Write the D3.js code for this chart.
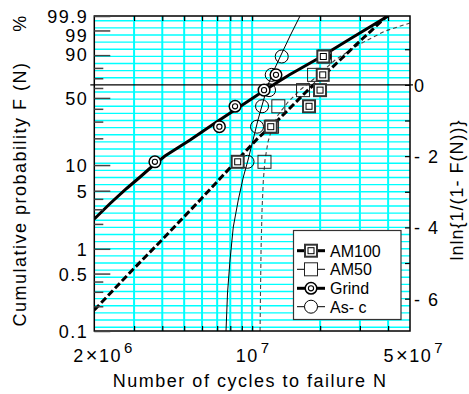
<!DOCTYPE html>
<html><head><meta charset="utf-8">
<script src="https://cdn.jsdelivr.net/npm/d3@7"></script>
<style>
html,body{margin:0;padding:0;background:#fff;}
svg{display:block;font-family:"Liberation Sans",Arial,Helvetica,sans-serif;}
</style></head><body>
<svg id="c" width="469" height="394"></svg>
<script>
// ---------- data ----------
const rankPct = [10.9, 26.6, 42.2, 57.8, 73.4, 89.1];           // cumulative probability of each specimen (%)
const am100N = [8.63e6, 1.209e7, 1.786e7, 1.998e7, 2.054e7, 2.066e7];
const am50N  = [1.134e7, 1.225e7, 1.306e7, 1.680e7, 1.880e7, 2.10e7];
const grindN = [3.71e6, 7.16e6, 8.40e6, 1.129e7, 1.275e7, 2.10e7];
const ascN   = [9.54e6, 1.051e7, 1.106e7, 1.188e7, 1.221e7, 1.352e7];

// fitted curves (N, lnln{1/(1-F)})
const am100CurveN = [2.0e6, 2.98e6, 3.98e6, 5.88e6, 8.12e6, 1.062e7, 1.302e7, 1.714e7, 2.45e7, 3.07e7, 3.96e7];
const am100CurveZ = [-6.318, -5.168, -4.354, -3.232, -2.277, -1.491, -0.986, -0.228, 0.698, 1.287, 1.933];
const grindCurveN = [2.0e6, 2.35e6, 2.78e6, 3.19e6, 3.60e6, 4.11e6, 5.31e6, 6.85e6, 8.84e6, 1.14e7, 1.47e7, 1.96e7, 2.71e7, 4.0e7];
const grindCurveZ = [-3.764, -3.329, -2.908, -2.586, -2.291, -1.996, -1.547, -1.070, -0.607, -0.144, 0.291, 0.740, 1.287, 1.933];
const am50CurveN = [1.084e7, 1.089e7, 1.095e7, 1.106e7, 1.121e7, 1.140e7, 1.175e7, 1.225e7, 1.302e7, 1.442e7, 1.629e7, 1.899e7, 2.33e7, 3.00e7, 3.88e7, 5.0e7];
const am50CurveZ = [-6.907, -5.757, -4.634, -3.512, -2.670, -2.109, -1.604, -1.211, -0.846, -0.481, -0.144, 0.193, 0.698, 1.147, 1.511, 1.736];
const ascCurveN = [7.66e6, 7.78e6, 7.98e6, 8.25e6, 8.68e6, 9.14e6, 9.59e6, 1.009e7, 1.061e7, 1.117e7, 1.175e7, 1.250e7, 1.342e7, 1.471e7, 1.629e7];
const ascCurveZ = [-6.907, -5.841, -4.915, -3.989, -3.231, -2.586, -2.109, -1.547, -0.986, -0.481, -0.004, 0.417, 0.838, 1.371, 1.933];

// axes
const xGridVals = [3e6, 4e6, 5e6, 6e6, 7e6, 8e6, 9e6, 1e7, 2e7, 3e7, 4e7];
const xLabelVals = [2e6, 1e7, 5e7];
const leftMajorPct = [99.9, 99, 90, 50, 10, 5, 1, 0.5, 0.1];
const leftMinorPct = [80, 70, 60, 40, 30, 20, 4, 3, 2, 0.4, 0.3, 0.2];
const rightTickVals = [1, 0, -1, -2, -3, -4, -5, -6];
const rightLabelVals = [0, -2, -4, -6];
const seriesNames = ["AM100", "AM50", "Grind", "As- c"];

// ---------- drawing ----------
const lnln = p => Math.log(-Math.log(1 - p / 100));
const L = 94.3, R = 410, T = 16, B = 331;
const x = d3.scaleLog().domain([2e6, 5e7]).range([L, R]);
const y = d3.scaleLinear().domain([lnln(0.1), lnln(99.9)]).range([B, T]);

const svg = d3.select("#c");
svg.append("defs").append("clipPath").attr("id", "clip")
  .append("rect").attr("x", L).attr("y", T).attr("width", R - L).attr("height", B - T);

// grid
const hGrid = d3.range(-34, 10).map(i => i * 0.2).filter(v => v > y.domain()[0] && v < y.domain()[1] && Math.abs(v) > 1e-9);
svg.append("g").selectAll("line").data(hGrid).join("line")
  .attr("x1", L).attr("x2", R).attr("y1", d => y(d)).attr("y2", d => y(d))
  .attr("stroke", "#00ffff").attr("stroke-width", 1.4);
svg.append("g").selectAll("line").data(xGridVals).join("line")
  .attr("x1", d => x(d)).attr("x2", d => x(d)).attr("y1", T).attr("y2", B)
  .attr("stroke", "#00ffff").attr("stroke-width", 2);

// zero line
svg.append("line").attr("x1", L - 4).attr("x2", R + 3).attr("y1", y(0)).attr("y2", y(0))
  .attr("stroke", "#000").attr("stroke-width", 1.2);

// curves
const line = d3.line().x(d => x(d[0])).y(d => y(d[1]));
const cg = svg.append("g").attr("clip-path", "url(#clip)");
const curve = (N, Z) => N.map((n, i) => [n, Z[i]]);
cg.append("path").attr("d", line(curve(am50CurveN, am50CurveZ))).attr("fill", "none")
  .attr("stroke", "#444").attr("stroke-width", 1.1).attr("stroke-dasharray", "4,3");
cg.append("path").attr("d", line(curve(ascCurveN, ascCurveZ))).attr("fill", "none")
  .attr("stroke", "#000").attr("stroke-width", 1);
cg.append("path").attr("d", line(curve(am100CurveN, am100CurveZ))).attr("fill", "none")
  .attr("stroke", "#000").attr("stroke-width", 3).attr("stroke-dasharray", "7,3");
cg.append("path").attr("d", line(curve(grindCurveN, grindCurveZ))).attr("fill", "none")
  .attr("stroke", "#000").attr("stroke-width", 3);

// markers
function circleMark(g, cx, cy) {
  g.append("circle").attr("cx", cx).attr("cy", cy).attr("r", 6.5).attr("fill", "none").attr("stroke", "#000").attr("stroke-width", 1);
}
function squareMark(g, cx, cy) {
  g.append("rect").attr("x", cx - 6.5).attr("y", cy - 6.5).attr("width", 13).attr("height", 13).attr("fill", "none").attr("stroke", "#222").attr("stroke-width", 1);
}
function dblCircleMark(g, cx, cy) {
  g.append("circle").attr("cx", cx).attr("cy", cy).attr("r", 5.8).attr("fill", "#fff").attr("stroke", "#000").attr("stroke-width", 1.5);
  g.append("circle").attr("cx", cx).attr("cy", cy).attr("r", 2.6).attr("fill", "none").attr("stroke", "#000").attr("stroke-width", 1.1);
}
function dblSquareMark(g, cx, cy) {
  g.append("rect").attr("x", cx - 6).attr("y", cy - 6).attr("width", 12).attr("height", 12).attr("fill", "#fff").attr("stroke", "#333").attr("stroke-width", 2);
  g.append("rect").attr("x", cx - 3).attr("y", cy - 3).attr("width", 6).attr("height", 6).attr("fill", "none").attr("stroke", "#000").attr("stroke-width", 1);
}
const mg = svg.append("g");
ascN.forEach((n, i) => circleMark(mg, x(n), y(lnln(rankPct[i]))));
am50N.forEach((n, i) => squareMark(mg, x(n), y(lnln(rankPct[i]))));
grindN.forEach((n, i) => dblCircleMark(mg, x(n), y(lnln(rankPct[i]))));
am100N.forEach((n, i) => dblSquareMark(mg, x(n), y(lnln(rankPct[i]))));

// frame
svg.append("rect").attr("x", L).attr("y", T).attr("width", R - L).attr("height", B - T)
  .attr("fill", "none").attr("stroke", "#000").attr("stroke-width", 1.5);

const txt = "font-size:18px;letter-spacing:1.5px;fill:#000";

// left axis
const leftMaj = svg.append("g").attr("transform", `translate(${L},0)`)
  .call(d3.axisLeft(y)
    .tickValues(leftMajorPct.map(lnln)).tickSizeInner(-16).tickSizeOuter(0).tickPadding(6)
    .tickFormat((d, i) => String(leftMajorPct[i])));
leftMaj.select(".domain").remove();
leftMaj.selectAll("line").attr("stroke", "#444").attr("stroke-width", 1.5);
leftMaj.selectAll("text").attr("style", txt).attr("dy", (d, i) => leftMajorPct[i] === 99 ? "0.62em" : leftMajorPct[i] === 90 ? "0.28em" : "0.36em");
const leftMin = svg.append("g").attr("transform", `translate(${L},0)`)
  .call(d3.axisLeft(y).tickValues(leftMinorPct.map(lnln)).tickSizeInner(-9).tickSizeOuter(0).tickFormat(""));
leftMin.select(".domain").remove();
leftMin.selectAll("line").attr("stroke", "#444").attr("stroke-width", 1.5);

// right axis
const rAx = svg.append("g").attr("transform", `translate(${R},0)`)
  .call(d3.axisRight(y).tickValues(rightTickVals).tickSizeInner(-5).tickSizeOuter(0).tickPadding(4)
    .tickFormat(d => rightLabelVals.includes(d) ? (d === 0 ? "0" : "- " + Math.abs(d)) : ""));
rAx.select(".domain").remove();
rAx.selectAll("line").attr("stroke", "#000").attr("stroke-width", 1.2);
rAx.selectAll("text").attr("style", txt).attr("dy", "0.36em");

// bottom / top ticks
[["axisBottom", B], ["axisTop", T]].forEach(([fn, yy]) => {
  const g = svg.append("g").attr("transform", `translate(0,${yy})`)
    .call(d3[fn](x).tickValues(xGridVals).tickSizeInner(-5).tickSizeOuter(0).tickFormat(""));
  g.select(".domain").remove();
  g.selectAll("line").attr("stroke", "#000").attr("stroke-width", 1.2);
});
// x labels (label start offsets relative to tick)
const xl = svg.append("g").attr("transform", `translate(0,${B})`)
  .call(d3.axisBottom(x).tickValues(xLabelVals).tickSize(0).tickPadding(0).tickFormat(""));
xl.select(".domain").remove();
xl.selectAll(".tick").each(function (d, i) {
  const e = Math.floor(Math.log10(d) + 1e-9), m = Math.round(d / Math.pow(10, e));
  const startOff = [-21.5, -17, -27][i];
  const t = d3.select(this).select("text").attr("style", txt).attr("text-anchor", "start")
    .attr("x", startOff).attr("y", 31).attr("dy", null);
  t.text(null);
  if (m !== 1) { t.append("tspan").text(m); t.append("tspan").text("×").attr("dx", 1).style("font-size", "20px"); }
  t.append("tspan").text("10");
  t.append("tspan").text(e).attr("dy", -9).attr("dx", 2).style("font-size", "15px");
});

// titles
svg.append("text").attr("style", txt).attr("text-anchor", "middle")
  .attr("x", (L + R) / 2 - 2).attr("y", 387).text("Number of cycles to failure N");
svg.append("text").attr("style", txt).attr("text-anchor", "middle")
  .attr("transform", "translate(26,194) rotate(-90)").text("Cumulative probability F (N)");
svg.append("text").attr("style", txt).attr("text-anchor", "middle")
  .attr("transform", "translate(26,23) rotate(-90)").text("%");
svg.append("text").attr("style", "font-size:18px;letter-spacing:1px;fill:#000").attr("text-anchor", "middle")
  .attr("transform", "translate(463,190) rotate(-90)").text("lnln{1/(1- F(N))}");

// legend
const lg = svg.append("g");
lg.append("rect").attr("x", 293.5).attr("y", 230.5).attr("width", 107.5).attr("height", 89)
  .attr("fill", "#fff").attr("stroke", "#333").attr("stroke-width", 1.2);
const legY = [250.7, 269.3, 288.3, 306.7];
const legThick = [3, 1, 3, 1];
const legMark = [dblSquareMark, squareMark, dblCircleMark, circleMark];
seriesNames.forEach((name, i) => {
  const yy = legY[i];
  lg.append("line").attr("x1", 297).attr("x2", 325).attr("y1", yy).attr("y2", yy)
    .attr("stroke", "#000").attr("stroke-width", legThick[i]);
  if (i === 1) lg.append("rect").attr("x", 304.5).attr("y", yy - 6.5).attr("width", 13).attr("height", 13).attr("fill", "#fff");
  if (i === 3) lg.append("circle").attr("cx", 311).attr("cy", yy).attr("r", 6.5).attr("fill", "#fff");
  legMark[i](lg, 311, yy);
  lg.append("text").attr("x", 330).attr("y", yy + 6).style("font-size", "16px").text(name);
});
</script>
</body></html>
